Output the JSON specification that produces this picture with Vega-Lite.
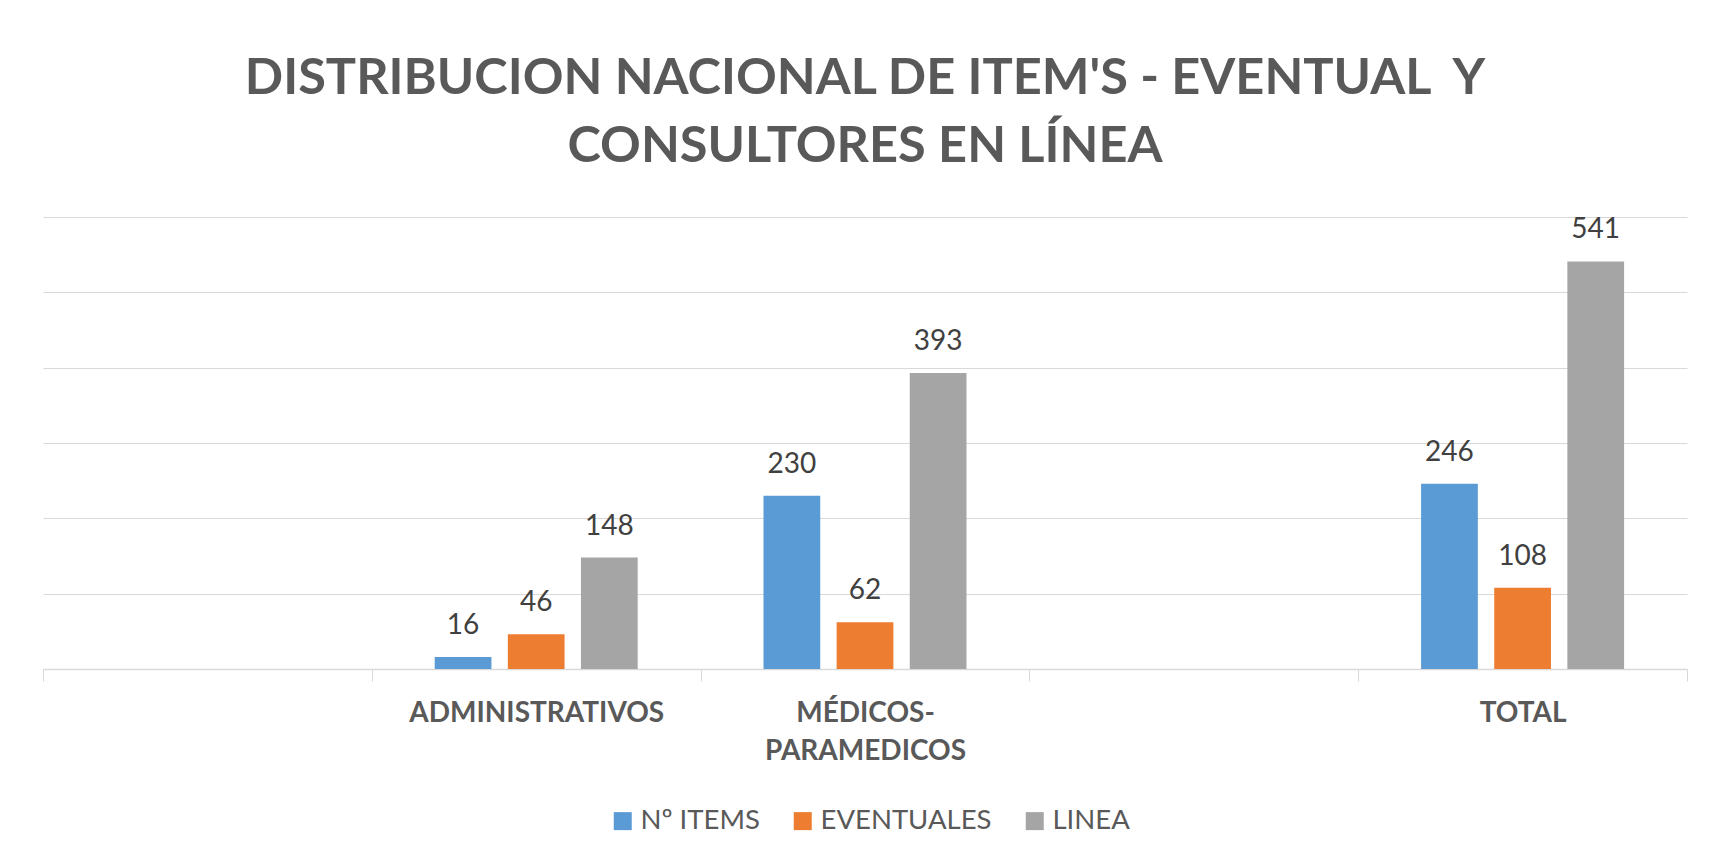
{
  "$schema": "https://vega.github.io/schema/vega-lite/v6.json",
  "autosize": {"type": "none"},
  "width": 1644,
  "height": 452,
  "padding": {"left": 43, "top": 217, "right": 25, "bottom": 194},
  "background": "white",
  "title": {
    "text": ["DISTRIBUCION NACIONAL DE ITEM'S - EVENTUAL\u00a0 Y", "CONSULTORES EN LÍNEA"],
    "font": "Lato",
    "fontSize": 50.5,
    "fontWeight": "bold",
    "color": "#595959",
    "lineHeight": 68,
    "anchor": "middle",
    "frame": "group",
    "offset": 44
  },
  "data": {
    "values": [
      {"categoria": "ADMINISTRATIVOS", "serie": "Nº ITEMS", "valor": 16},
      {"categoria": "ADMINISTRATIVOS", "serie": "EVENTUALES", "valor": 46},
      {"categoria": "ADMINISTRATIVOS", "serie": "LINEA", "valor": 148},
      {"categoria": "MÉDICOS-PARAMEDICOS", "serie": "Nº ITEMS", "valor": 230},
      {"categoria": "MÉDICOS-PARAMEDICOS", "serie": "EVENTUALES", "valor": 62},
      {"categoria": "MÉDICOS-PARAMEDICOS", "serie": "LINEA", "valor": 393},
      {"categoria": "TOTAL", "serie": "Nº ITEMS", "valor": 246},
      {"categoria": "TOTAL", "serie": "EVENTUALES", "valor": 108},
      {"categoria": "TOTAL", "serie": "LINEA", "valor": 541}
    ]
  },
  "encoding": {
    "x": {
      "field": "categoria",
      "type": "nominal",
      "scale": {
        "domain": ["_a", "ADMINISTRATIVOS", "MÉDICOS-PARAMEDICOS", "_b", "TOTAL"],
        "paddingInner": 0,
        "paddingOuter": 0
      },
      "axis": {
        "title": null,
        "labelAngle": 0,
        "labelExpr": "(datum.label == '_a' || datum.label == '_b') ? '' : (datum.label == 'MÉDICOS-PARAMEDICOS' ? ['MÉDICOS-', 'PARAMEDICOS'] : datum.label)",
        "labelFont": "Lato",
        "labelFontSize": 28,
        "labelFontWeight": "bold",
        "labelColor": "#595959",
        "labelLineHeight": 38,
        "labelPadding": 18,
        "labelLimit": 0,
        "tickBand": "extent",
        "tickColor": "#D9D9D9",
        "tickSize": 12,
        "tickWidth": 1,
        "domainColor": "#D9D9D9",
        "domainWidth": 1.5,
        "grid": false
      }
    },
    "xOffset": {
      "field": "serie",
      "type": "nominal",
      "scale": {
        "domain": ["Nº ITEMS", "EVENTUALES", "LINEA"],
        "paddingInner": 0.224,
        "paddingOuter": 0.86
      }
    },
    "y": {
      "field": "valor",
      "type": "quantitative",
      "scale": {"domain": [0, 600], "nice": false},
      "axis": {
        "title": null,
        "values": [0, 100, 200, 300, 400, 500, 600],
        "labels": false,
        "ticks": false,
        "domain": false,
        "grid": true,
        "gridColor": "#D9D9D9",
        "gridWidth": 1.2
      }
    }
  },
  "layer": [
    {
      "mark": {"type": "bar"},
      "encoding": {
        "color": {
          "field": "serie",
          "type": "nominal",
          "scale": {
            "domain": ["Nº ITEMS", "EVENTUALES", "LINEA"],
            "range": ["#5B9BD5", "#ED7D31", "#A5A5A5"]
          },
          "legend": {
            "title": null,
            "orient": "none",
            "direction": "horizontal",
            "legendX": 566,
            "legendY": 590,
            "padding": 0,
            "symbolType": "square",
            "symbolSize": 324,
            "symbolStrokeWidth": 0,
            "labelFont": "Lato",
            "labelFontSize": 27.5,
            "labelColor": "#595959",
            "labelOffset": 4,
            "labelLimit": 0,
            "columnPadding": 29
          }
        }
      }
    },
    {
      "mark": {
        "type": "text",
        "baseline": "middle",
        "dy": -31,
        "font": "Lato",
        "fontSize": 28,
        "color": "#404040"
      },
      "encoding": {
        "text": {"field": "valor", "type": "quantitative"}
      }
    }
  ],
  "config": {
    "view": {"stroke": null}
  }
}
